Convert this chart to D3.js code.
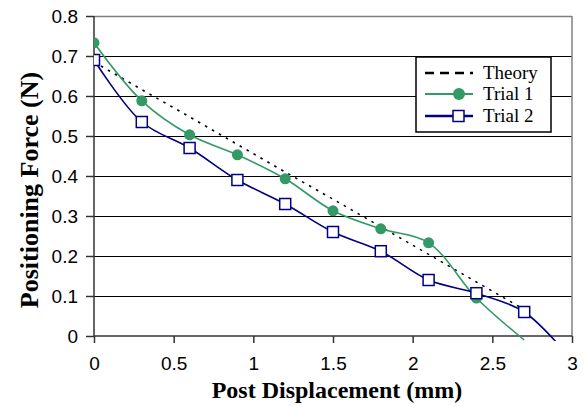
<!DOCTYPE html>
<html><head><meta charset="utf-8">
<script src="https://cdn.jsdelivr.net/npm/d3@7/dist/d3.min.js"></script>
<style>body{margin:0;background:#fff;} svg{display:block;}</style>
</head><body>
<svg id="chart" width="584" height="406"></svg>
<script>
const displacement = [0, 0.3, 0.6, 0.9, 1.2, 1.5, 1.8, 2.1, 2.4, 2.7];
const theory = [0.685, 0.616, 0.548, 0.479, 0.41, 0.342, 0.273, 0.204, 0.135, 0.066];
const trial1X = [0, 0.3, 0.6, 0.9, 1.2, 1.5, 1.8, 2.1, 2.4, 2.7];
const trial1 = [0.733, 0.588, 0.503, 0.453, 0.393, 0.313, 0.268, 0.233, 0.095, -0.01];
const trial2X = [0, 0.3, 0.6, 0.9, 1.2, 1.5, 1.8, 2.1, 2.4, 2.7, 3.0];
const trial2 = [0.69, 0.535, 0.47, 0.39, 0.33, 0.26, 0.212, 0.14, 0.107, 0.06, -0.06];
const xTicks = [0, 0.5, 1, 1.5, 2, 2.5, 3];
const yTicks = [0, 0.1, 0.2, 0.3, 0.4, 0.5, 0.6, 0.7, 0.8];
const seriesNames = ["Theory", "Trial 1", "Trial 2"];

const SERIF = "'Liberation Serif', 'Times New Roman', serif";
const SANS = "'Liberation Sans', Arial, sans-serif";

const svg = d3.select("#chart");
const L = 94, R = 572, T = 16, B = 336;
const x = d3.scaleLinear().domain([0, 3]).range([L, R]);
const y = d3.scaleLinear().domain([0, 0.8]).range([B, T]);

// grid
svg.append("g").selectAll("line").data(yTicks.filter(d => d > 0 && d < 0.8)).join("line")
  .attr("x1", L).attr("x2", R).attr("y1", d => y(d) + 0.5).attr("y2", d => y(d) + 0.5)
  .attr("stroke", "#000").attr("stroke-width", 1);
// plot border
svg.append("line").attr("x1", L).attr("x2", R).attr("y1", T + 0.5).attr("y2", T + 0.5).attr("stroke", "#808080").attr("stroke-width", 1.5);
svg.append("line").attr("x1", R).attr("x2", R).attr("y1", T).attr("y2", B).attr("stroke", "#808080").attr("stroke-width", 1.5);

// axes
const yAxis = d3.axisLeft(y).tickValues(yTicks).tickFormat(d3.format("~g")).tickSize(8).tickPadding(8);
const xAxis = d3.axisBottom(x).tickValues(xTicks).tickFormat(d3.format("~g")).tickSize(7).tickPadding(14);
const gy = svg.append("g").attr("transform", `translate(${L},0)`).call(yAxis);
const gx = svg.append("g").attr("transform", `translate(0,${B})`).call(xAxis);
[gx, gy].forEach(g => {
  g.attr("font-family", null).attr("font-size", null);
  g.selectAll("path.domain").attr("stroke", "#333").attr("stroke-width", 1.5);
  g.selectAll(".tick line").attr("stroke", "#333").attr("stroke-width", 1.5);
  g.selectAll("text").style("font-family", SANS).style("font-size", "19px").attr("fill", "#000");
});
gx.select("path.domain").attr("d", `M${L},0H${R}`);
gy.select("path.domain").attr("d", `M0,${B}V${T}`);

// clip
svg.append("defs").append("clipPath").attr("id", "clip").append("rect")
  .attr("x", L).attr("y", T - 10).attr("width", R - L + 2).attr("height", B - T + 15);

const plot = svg.append("g").attr("clip-path", "url(#clip)");
const line = d3.line().x(d => x(d[0])).y(d => y(d[1])).curve(d3.curveCatmullRom.alpha(0.5));
const lineStraight = d3.line().x(d => x(d[0])).y(d => y(d[1]));

const theoryPts = displacement.map((d, i) => [d, theory[i]]);
const t1Pts = trial1X.map((d, i) => [d, trial1[i]]);
const t2Pts = trial2X.map((d, i) => [d, trial2[i]]);

plot.append("path").attr("d", lineStraight(theoryPts)).attr("fill", "none")
  .attr("stroke", "#000").attr("stroke-width", 1.6).attr("stroke-dasharray", "2.5,5.5");
plot.append("path").attr("d", line(t1Pts)).attr("fill", "none").attr("stroke", "#339966").attr("stroke-width", 1.6);
plot.append("path").attr("d", line(t2Pts)).attr("fill", "none").attr("stroke", "#000080").attr("stroke-width", 1.6);

plot.append("g").selectAll("circle").data(t1Pts.filter(d => d[1] >= 0)).join("circle")
  .attr("cx", d => x(d[0])).attr("cy", d => y(d[1])).attr("r", 5.5).attr("fill", "#339966");
plot.append("g").selectAll("rect").data(t2Pts.filter(d => d[1] >= 0)).join("rect")
  .attr("x", d => x(d[0]) - 5.5).attr("y", d => y(d[1]) - 5.5).attr("width", 11).attr("height", 11)
  .attr("fill", "#fff").attr("stroke", "#000080").attr("stroke-width", 1.5);

// titles
svg.append("text").attr("x", 337).attr("y", 398).attr("text-anchor", "middle")
  .style("font-family", SERIF).style("font-weight", "bold").style("font-size", "24px")
  .text("Post Displacement (mm)");
svg.append("text").attr("transform", "translate(38,190) rotate(-90)").attr("text-anchor", "middle")
  .style("font-family", SERIF).style("font-weight", "bold").style("font-size", "26px")
  .text("Positioning Force (N)");

// legend
const lg = svg.append("g");
lg.append("rect").attr("x", 416).attr("y", 57).attr("width", 135).attr("height", 75)
  .attr("fill", "#fff").attr("stroke", "#000").attr("stroke-width", 1.5);
const rows = [73, 94, 116];
const styles = [
  {stroke: "#000", dash: "9,6", w: 2.5},
  {stroke: "#339966", dash: null, w: 2},
  {stroke: "#000080", dash: null, w: 2.5}
];
seriesNames.forEach((name, i) => {
  const ry = rows[i];
  const s = styles[i];
  lg.append("line").attr("x1", 425).attr("x2", 473).attr("y1", ry).attr("y2", ry)
    .attr("stroke", s.stroke).attr("stroke-width", s.w).attr("stroke-dasharray", s.dash);
  if (i === 1) lg.append("circle").attr("cx", 459).attr("cy", ry).attr("r", 6).attr("fill", "#339966");
  if (i === 2) lg.append("rect").attr("x", 453).attr("y", ry - 5.5).attr("width", 11).attr("height", 11)
    .attr("fill", "#fff").attr("stroke", "#000080").attr("stroke-width", 1.5);
  lg.append("text").attr("x", 483).attr("y", ry + 6).style("font-family", SERIF).style("font-size", "19px").text(name);
});
</script>
</body></html>
